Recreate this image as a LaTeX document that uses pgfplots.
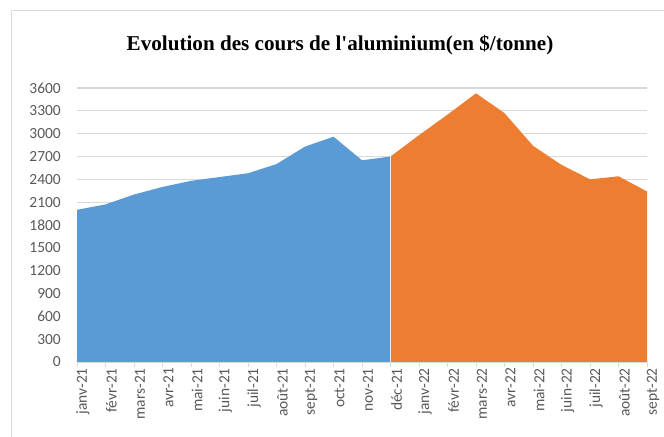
\documentclass[border=0pt]{standalone}
\usepackage{fontspec}
\setmainfont{Liberation Serif}
\newfontfamily\titlefont{Liberation Serif}[Ligatures=TeXOff]
\newfontfamily\tickfont{Carlito}
\usepackage{pgfplots}
\pgfplotsset{compat=1.18}
\definecolor{bluearea}{RGB}{91,155,213}
\definecolor{orangearea}{RGB}{237,125,49}
\definecolor{gridgray}{RGB}{217,217,217}
\definecolor{labelgray}{RGB}{89,89,89}
\definecolor{framegray}{RGB}{217,217,217}
\begin{document}
\begin{tikzpicture}[x=1bp,y=1bp]
\path[use as bounding box] (0,0) rectangle (664,437);
\draw[framegray, line width=1.2bp] (11.5,0) -- (11.5,426.5) -- (664,426.5);
\node[font=\titlefont\bfseries\fontsize{21.2}{24}\selectfont, anchor=base] at (340,386) {Evolution des cours de l'aluminium(en \$/tonne)};
\begin{axis}[
  at={(77bp,75bp)}, anchor=south west,
  scale only axis, width=570bp, height=274bp,
  xmin=0, xmax=20, ymin=0, ymax=3600,
  ytick={0,300,...,3600},
  xtick={0,...,20},
  xticklabels={janv-21,févr-21,mars-21,avr-21,mai-21,juin-21,juil-21,août-21,sept-21,oct-21,nov-21,déc-21,janv-22,févr-22,mars-22,avr-22,mai-22,juin-22,juil-22,août-22,sept-22},
  axis x line*=bottom, axis y line*=left,
  x axis line style={draw=gridgray, line width=1bp, -},
  y axis line style={draw=none},
  ymajorgrids, grid style={gridgray, line width=1.2bp},
  tick align=outside,
  xtick style={draw=gridgray, line width=1bp},
  ytick style={draw=none},
  major tick length=5bp,
  /pgf/number format/assume math mode=true,
  /pgf/number format/1000 sep={},
  tick label style={font=\tickfont\fontsize{15.5}{16}\selectfont, text=labelgray},
  yticklabel style={anchor=east, inner sep=0pt, xshift=-11bp},
  xticklabel style={rotate=90, anchor=east, inner sep=0pt, yshift=-6bp, xshift=-1bp},
  clip=false,
]
\addplot[fill=bluearea, draw=none] coordinates {
(0,2000)(1,2070)(2,2200)(3,2300)(4,2380)(5,2430)(6,2480)(7,2600)(8,2830)(9,2960)(10,2650)(11,2700)
} \closedcycle;
\addplot[fill=orangearea, draw=none] coordinates {
(11,2700)(12,2980)(13,3250)(14,3530)(15,3270)(16,2840)(17,2590)(18,2400)(19,2440)(20,2240)
} \closedcycle;
\addplot[white!85!gray, line width=0.6bp] coordinates {(11,0)(11,2700)};
\end{axis}
\end{tikzpicture}
\end{document}
